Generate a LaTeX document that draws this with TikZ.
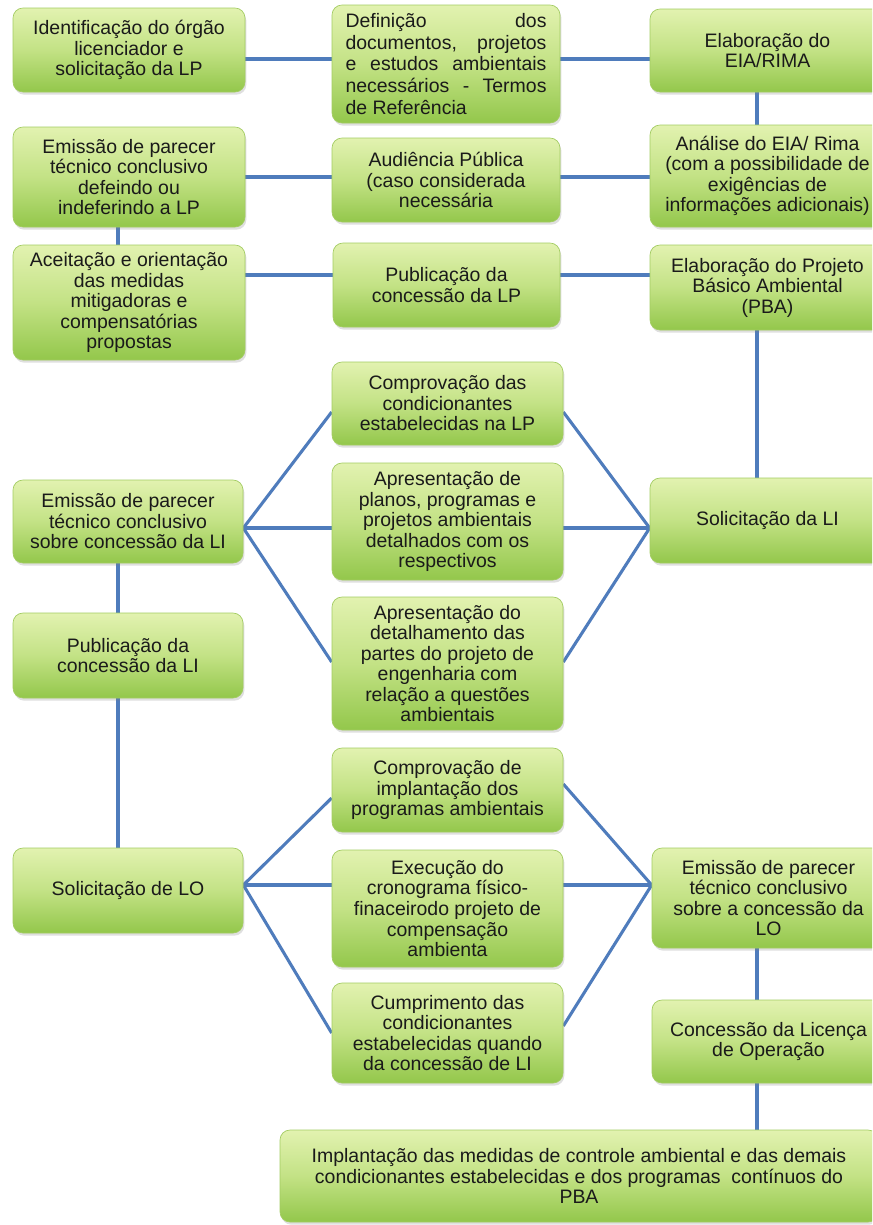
\documentclass[tikz,border=0pt]{standalone}
\usepackage{fontspec}
\setmainfont{Liberation Sans}
\usetikzlibrary{shadows,backgrounds,calc}
\definecolor{gtop}{HTML}{E2F2B0}
\definecolor{gmid}{HTML}{C3E285}
\definecolor{gbot}{HTML}{93C74B}
\definecolor{gedge}{HTML}{A3CC62}
\definecolor{lnk}{HTML}{4F7CBC}
\definecolor{txt}{HTML}{1A1A1A}
\newcommand\bx[6]{\node[gbox, minimum width={(#4-#2)*0.75pt}, minimum height={(#5-#3)*0.75pt}] (#1) at ({(#2+#4)/2},{(#3+#5)/2}) {#6};}
\newcommand\jl[1]{\makebox[150.75pt][s]{#1}}
\begin{document}
\begin{tikzpicture}[x=0.75pt,y=-0.75pt,
  gbox/.style={rectangle, rounded corners=7.5pt, top color=gtop, bottom color=gbot, middle color=gmid,
    draw=gedge, line width=0.5pt, align=center, inner sep=2pt, text=txt,
    font=\fontsize{14.6pt}{15.4pt}\selectfont,
    drop shadow={shadow xshift=1pt, shadow yshift=-2pt, opacity=0.25}},
  link/.style={draw=lnk, line width=2.3pt}]
\useasboundingbox (0,0) rectangle (872,1225);
\clip (0,0) rectangle (872,1225);
\begin{scope}[on background layer]
  \fill[white] (0,0) rectangle (872,1225);
\end{scope}

% row 1
\bx{A}{13}{8}{245}{92}{Identificação do órgão\\licenciador e\\solicitação da LP}
\node[gbox, minimum width={228*0.75pt}, minimum height={118*0.75pt}, align=left,
  font=\fontsize{14.6pt}{16.3pt}\selectfont] (B) at (446,64)
  {\jl{Definição dos}\\\jl{documentos, projetos}\\\jl{e estudos ambientais}\\\jl{necessários - Termos}\\de Referência};
\bx{C}{650}{9}{885}{92}{Elaboração do\\EIA/RIMA}
% row 2
\bx{F}{13}{127}{245}{227}{Emissão de parecer\\técnico conclusivo\\defeindo ou\\indeferindo a LP}
\bx{E}{332}{138}{560}{222}{Audiência Pública\\(caso considerada\\necessária}
\bx{D}{650}{125}{885}{227}{Análise do EIA/ Rima\\(com a possibilidade de\\exigências de\\informações adicionais)}
% row 3
\bx{G}{13}{245}{245}{360}{Aceitação e orientação\\das medidas\\mitigadoras e\\compensatórias\\propostas}
\bx{H}{333}{243}{560}{327}{Publicação da\\concessão da LP}
\bx{I}{650}{245}{885}{330}{Elaboração do Projeto\\Básico Ambiental\\(PBA)}
% LI fan
\bx{K1}{332}{362}{563}{445}{Comprovação das\\condicionantes\\estabelecidas na LP}
\bx{K2}{332}{463}{563}{580}{Apresentação de\\planos, programas e\\projetos ambientais\\detalhados com os\\respectivos}
\bx{K3}{332}{597}{563}{730}{Apresentação do\\detalhamento das\\partes do projeto de\\engenharia com\\relação a questões\\ambientais}
\bx{L}{13}{480}{243}{563}{Emissão de parecer\\técnico conclusivo\\sobre concessão da LI}
\bx{J}{650}{478}{885}{563}{Solicitação da LI}
\bx{M}{13}{613}{243}{698}{Publicação da\\concessão da LI}
% LO fan
\bx{N}{13}{848}{243}{933}{Solicitação de LO}
\bx{P1}{332}{748}{563}{832}{Comprovação de\\implantação dos\\programas ambientais}
\bx{P2}{332}{850}{563}{967}{Execução do\\cronograma físico-\\finaceirodo projeto de\\compensação\\ambienta}
\bx{P3}{332}{983}{563}{1083}{Cumprimento das\\condicionantes\\estabelecidas quando\\da concessão de LI}
\bx{Q}{652}{848}{885}{948}{Emissão de parecer\\técnico conclusivo\\sobre a concessão da\\LO}
\bx{R}{652}{1000}{885}{1083}{Concessão da Licença\\de Operação}
\bx{S}{280}{1130}{878}{1222}{Implantação das medidas de controle ambiental e das demais\\condicionantes estabelecidas e dos programas\ \ contínuos do\\PBA}

% helper coordinates
\coordinate (yr1) at (0,59);
\coordinate (yr2) at (0,177);
\coordinate (yr3) at (0,275);
\coordinate (yLI) at (0,528);
\coordinate (yK1) at (0,412);
\coordinate (yK3) at (0,662);
\coordinate (yLO) at (0,885);
\coordinate (yP1a) at (0,798);
\coordinate (yP1b) at (0,784);
\coordinate (yP3a) at (0,1033);
\coordinate (yP3b) at (0,1026);
\coordinate (xL) at (118,0);
\coordinate (xR) at (757,0);

\begin{scope}[on background layer]
  \draw[link] (A.east |- yr1) -- (B.west |- yr1);
  \draw[link] (B.east |- yr1) -- (C.west |- yr1);
  \draw[link] (C.south -| xR) -- (D.north -| xR);
  \draw[link] (F.east |- yr2) -- (E.west |- yr2);
  \draw[link] (E.east |- yr2) -- (D.west |- yr2);
  \draw[link] (F.south -| xL) -- (G.north -| xL);
  \draw[link] (G.east |- yr3) -- (H.west |- yr3);
  \draw[link] (H.east |- yr3) -- (I.west |- yr3);
  \draw[link] (I.south -| xR) -- (J.north -| xR);
  % LI fan
  \draw[link] (L.east |- yLI) -- (K1.west |- yK1);
  \draw[link] (L.east |- yLI) -- (K2.west |- yLI);
  \draw[link] (L.east |- yLI) -- (K3.west |- yK3);
  \draw[link] (K1.east |- yK1) -- (J.west |- yLI);
  \draw[link] (K2.east |- yLI) -- (J.west |- yLI);
  \draw[link] (K3.east |- yK3) -- (J.west |- yLI);
  \draw[link] (L.south -| xL) -- (M.north -| xL);
  \draw[link] (M.south -| xL) -- (N.north -| xL);
  % LO fan
  \draw[link] (N.east |- yLO) -- (P1.west |- yP1a);
  \draw[link] (N.east |- yLO) -- (P2.west |- yLO);
  \draw[link] (N.east |- yLO) -- (P3.west |- yP3a);
  \draw[link] (P1.east |- yP1b) -- (Q.west |- yLO);
  \draw[link] (P2.east |- yLO) -- (Q.west |- yLO);
  \draw[link] (P3.east |- yP3b) -- (Q.west |- yLO);
  \draw[link] (Q.south -| xR) -- (R.north -| xR);
  \draw[link] (R.south -| xR) -- (S.north -| xR);
\end{scope}
\end{tikzpicture}
\end{document}
